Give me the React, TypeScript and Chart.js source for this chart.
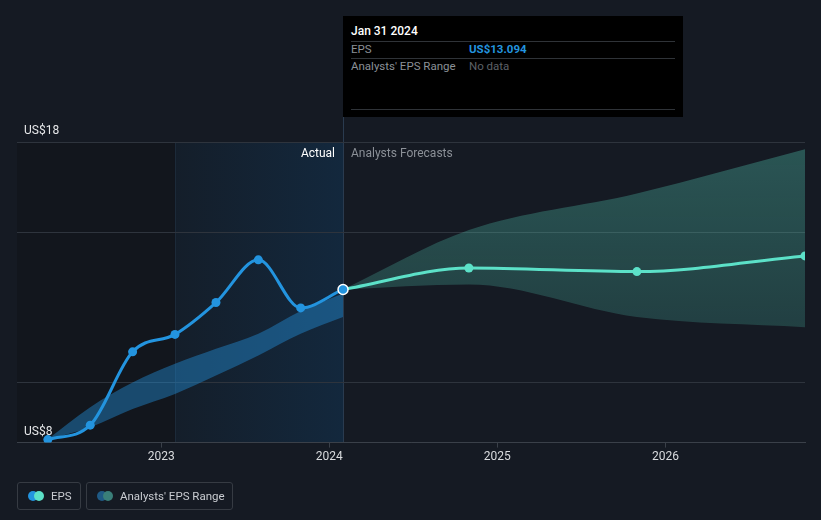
import React, { useEffect, useRef } from "react";
import { Chart, registerables } from "chart.js";

Chart.register(...registerables);

// ---- data ----
const actualDates = ["2022-04-30", "2022-07-31", "2022-10-31", "2023-01-31", "2023-04-30", "2023-07-31", "2023-10-31", "2024-01-31"];
const epsActual = [8.1, 8.58, 11.02, 11.6, 12.66, 14.08, 12.48, 13.094];
const pastRangeLow = [8.1, 8.51, 9.12, 9.62, 10.23, 10.9, 11.62, 12.18];
const pastRangeHigh = [8.12, 9.18, 10.0, 10.62, 11.12, 11.62, 12.38, 12.96];

const forecastDates = ["2024-01-31", "2024-10-31", "2025-10-31", "2026-10-31"];
const epsForecast = [13.094, 13.81, 13.69, 14.21];
const forecastLow = [13.094, 13.26, 12.18, 11.84];
const forecastHigh = [13.094, 15.07, 16.29, 17.76];

const xTickYears = [2023, 2024, 2025, 2026];
const yGridValues = [8, 10, 15, 18];
const yLabelValues = [8, 18];
const xRangeDates = ["2022-02-22", "2026-10-31"];
const yRange = [8, 18];
const highlightStart = "2023-01-31";

const MONTHS = ["Jan", "Feb", "Mar", "Apr", "May", "Jun", "Jul", "Aug", "Sep", "Oct", "Nov", "Dec"];

function toYear(s: string): number {
  const d = new Date(s + "T00:00:00Z");
  const y = d.getUTCFullYear();
  const start = Date.UTC(y, 0, 1);
  const end = Date.UTC(y + 1, 0, 1);
  return y + (d.getTime() - start) / (end - start);
}
function fmtDate(s: string): string {
  const d = new Date(s + "T00:00:00Z");
  return `${MONTHS[d.getUTCMonth()]} ${d.getUTCDate()} ${d.getUTCFullYear()}`;
}
const pts = (dates: string[], vals: number[]) => dates.map((d, i) => ({ x: toYear(d), y: vals[i] }));

const BLUE = "#2394df";
const TEAL = "#5ce1c8";
const FONT = "Roboto, 'Noto Sans', sans-serif";

const lastIdx = actualDates.length - 1;
const splitDate = actualDates[lastIdx];

const bgPlugin = {
  id: "bgShade",
  beforeDraw(chart: any) {
    const { ctx, chartArea } = chart;
    const xs = chart.scales.x;
    const xSplit = xs.getPixelForValue(toYear(splitDate));
    const xHl = xs.getPixelForValue(toYear(highlightStart));
    const { left, top, bottom } = chartArea;
    ctx.save();
    ctx.fillStyle = "#12161d";
    ctx.fillRect(left, top, xHl - left, bottom - top);
    const g = ctx.createLinearGradient(xHl, 0, xSplit, 0);
    g.addColorStop(0, "#141e2a");
    g.addColorStop(1, "#13283d");
    ctx.fillStyle = g;
    ctx.fillRect(xHl, top, xSplit - xHl, bottom - top);
    ctx.fillStyle = "#1c2a39";
    ctx.fillRect(Math.round(xHl), top, 1, bottom - top);
    ctx.fillStyle = "#2a3b4f";
    ctx.fillRect(Math.round(xSplit), 117, 1, bottom - 117);
    ctx.restore();
  },
  afterDatasetsDraw(chart: any) {
    const { ctx, chartArea } = chart;
    const xSplit = chart.scales.x.getPixelForValue(toYear(splitDate));
    ctx.save();
    ctx.font = `12px ${FONT}`;
    ctx.textBaseline = "middle";
    ctx.textAlign = "right";
    ctx.fillStyle = "#ffffff";
    ctx.fillText("Actual", xSplit - 8, chartArea.top + 12);
    ctx.textAlign = "left";
    ctx.fillStyle = "#8b9097";
    ctx.fillText("Analysts Forecasts", xSplit + 8, chartArea.top + 12);
    ctx.restore();
  },
};

export default function App() {
  const ref = useRef<HTMLCanvasElement | null>(null);

  useEffect(() => {
    if (!ref.current) return;
    const chart = new Chart(ref.current, {
      type: "line",
      data: {
        datasets: [
          {
            label: "EPS",
            data: pts(actualDates, epsActual),
            borderColor: BLUE,
            borderWidth: 3,
            cubicInterpolationMode: "monotone",
            pointRadius: (c: any) => (c.dataIndex === lastIdx ? 5 : 4.5),
            pointBackgroundColor: BLUE,
            pointBorderColor: (c: any) => (c.dataIndex === lastIdx ? "#ffffff" : BLUE),
            pointBorderWidth: (c: any) => (c.dataIndex === lastIdx ? 1.5 : 0),
            fill: false,
          },
          {
            label: "EPS forecast",
            data: pts(forecastDates, epsForecast),
            borderColor: TEAL,
            borderWidth: 3,
            cubicInterpolationMode: "monotone",
            pointRadius: (c: any) => (c.dataIndex === 0 ? 0 : 4.5),
            pointBackgroundColor: TEAL,
            pointBorderWidth: 0,
            fill: false,
          },
          {
            label: "past low",
            data: pts(actualDates, pastRangeLow),
            borderWidth: 0,
            pointRadius: 0,
            cubicInterpolationMode: "monotone",
            fill: false,
          },
          {
            label: "past high",
            data: pts(actualDates, pastRangeHigh),
            borderWidth: 0,
            pointRadius: 0,
            cubicInterpolationMode: "monotone",
            backgroundColor: "rgba(35,148,223,0.42)",
            fill: "-1",
          },
          {
            label: "fc low",
            data: pts(forecastDates, forecastLow),
            borderWidth: 0,
            pointRadius: 0,
            cubicInterpolationMode: "monotone",
            fill: false,
          },
          {
            label: "fc high",
            data: pts(forecastDates, forecastHigh),
            borderWidth: 0,
            pointRadius: 0,
            cubicInterpolationMode: "monotone",
            backgroundColor: (c: any) => {
              const ca = c.chart.chartArea;
              if (!ca) return "rgba(92,225,200,0.25)";
              const g = c.chart.ctx.createLinearGradient(0, ca.top, 0, ca.bottom);
              g.addColorStop(0, "rgba(92,225,200,0.30)");
              g.addColorStop(1, "rgba(92,225,200,0.12)");
              return g;
            },
            fill: "-1",
          },
        ],
      },
      options: {
        responsive: false,
        animation: false,
        events: [],
        layout: { padding: { left: 3, right: 16, top: 142, bottom: 54 } },
        plugins: { legend: { display: false }, tooltip: { enabled: false } },
        scales: {
          x: {
            type: "linear",
            min: toYear(xRangeDates[0]),
            max: toYear(xRangeDates[1]),
            afterBuildTicks: (s: any) => {
              s.ticks = xTickYears.map((v) => ({ value: v }));
            },
            ticks: {
              color: "#d9dbde",
              font: { family: FONT, size: 12 },
              padding: 2,
              autoSkip: false,
              maxRotation: 0,
              callback: (v: any) => String(v),
            },
            grid: { drawOnChartArea: false, drawTicks: true, tickLength: 5, color: "#3a4049" },
            border: { display: true, color: "#3a4049", width: 1 },
          },
          y: {
            type: "linear",
            min: yRange[0],
            max: yRange[1],
            afterBuildTicks: (s: any) => {
              s.ticks = yGridValues.map((v) => ({ value: v }));
            },
            ticks: {
              mirror: true,
              padding: 7,
              labelOffset: -11,
              color: "#e6e7e9",
              font: { family: FONT, size: 12 },
              callback: (v: any) => (yLabelValues.includes(v) ? `US$${v}` : ""),
            },
            grid: { drawTicks: false, color: "#2e343d" },
            border: { display: false },
          },
        },
      },
      plugins: [bgPlugin],
    } as any);
    return () => chart.destroy();
  }, []);

  const rowLine: React.CSSProperties = { position: "absolute", left: 8, right: 8, height: 1, background: "#2f3338" };
  const txt: React.CSSProperties = { position: "absolute", fontSize: 11.5, lineHeight: "14px", whiteSpace: "nowrap" };

  return (
    <div style={{ position: "fixed", left: 0, top: 0, width: 821, height: 520, background: "#151a23", fontFamily: FONT, overflow: "hidden" }}>
      <canvas ref={ref} width={821} height={520} style={{ position: "absolute", left: 0, top: 0, width: 821, height: 520 }} />
      {/* tooltip */}
      <div style={{ position: "absolute", left: 343, top: 16, width: 340, height: 101, background: "#000000" }}>
        <div style={{ ...txt, left: 8, top: 8, color: "#ffffff", fontSize: 12, fontWeight: 500 }}>{fmtDate(splitDate)}</div>
        <div style={{ ...rowLine, top: 25 }} />
        <div style={{ ...txt, left: 8, top: 26, color: "#8b9097" }}>EPS</div>
        <div style={{ ...txt, left: 126, top: 26, color: BLUE, fontWeight: 700 }}>{`US$${epsActual[lastIdx].toFixed(3)}`}</div>
        <div style={{ ...rowLine, top: 42 }} />
        <div style={{ ...txt, left: 8, top: 43, color: "#8b9097" }}>Analysts' EPS Range</div>
        <div style={{ ...txt, left: 126, top: 43, color: "#5d6167" }}>No data</div>
        <div style={{ ...rowLine, top: 93 }} />
      </div>
      {/* legend */}
      <div style={{ position: "absolute", left: 17, top: 482, width: 62, height: 26, border: "1px solid #363b43", borderRadius: 3 }}>
        <span style={{ position: "absolute", left: 10, top: 8, width: 10, height: 10, borderRadius: 5, background: BLUE }} />
        <span style={{ position: "absolute", left: 16, top: 8, width: 10, height: 10, borderRadius: 5, background: TEAL }} />
        <div style={{ ...txt, left: 33, top: 6, color: "#c9ccd1" }}>EPS</div>
      </div>
      <div style={{ position: "absolute", left: 86, top: 482, width: 145, height: 26, border: "1px solid #363b43", borderRadius: 3 }}>
        <span style={{ position: "absolute", left: 10, top: 8, width: 10, height: 10, borderRadius: 5, background: "#1f5a85" }} />
        <span style={{ position: "absolute", left: 16, top: 8, width: 10, height: 10, borderRadius: 5, background: "#3a7f79" }} />
        <div style={{ ...txt, left: 33, top: 6, color: "#c9ccd1" }}>Analysts' EPS Range</div>
      </div>
    </div>
  );
}
